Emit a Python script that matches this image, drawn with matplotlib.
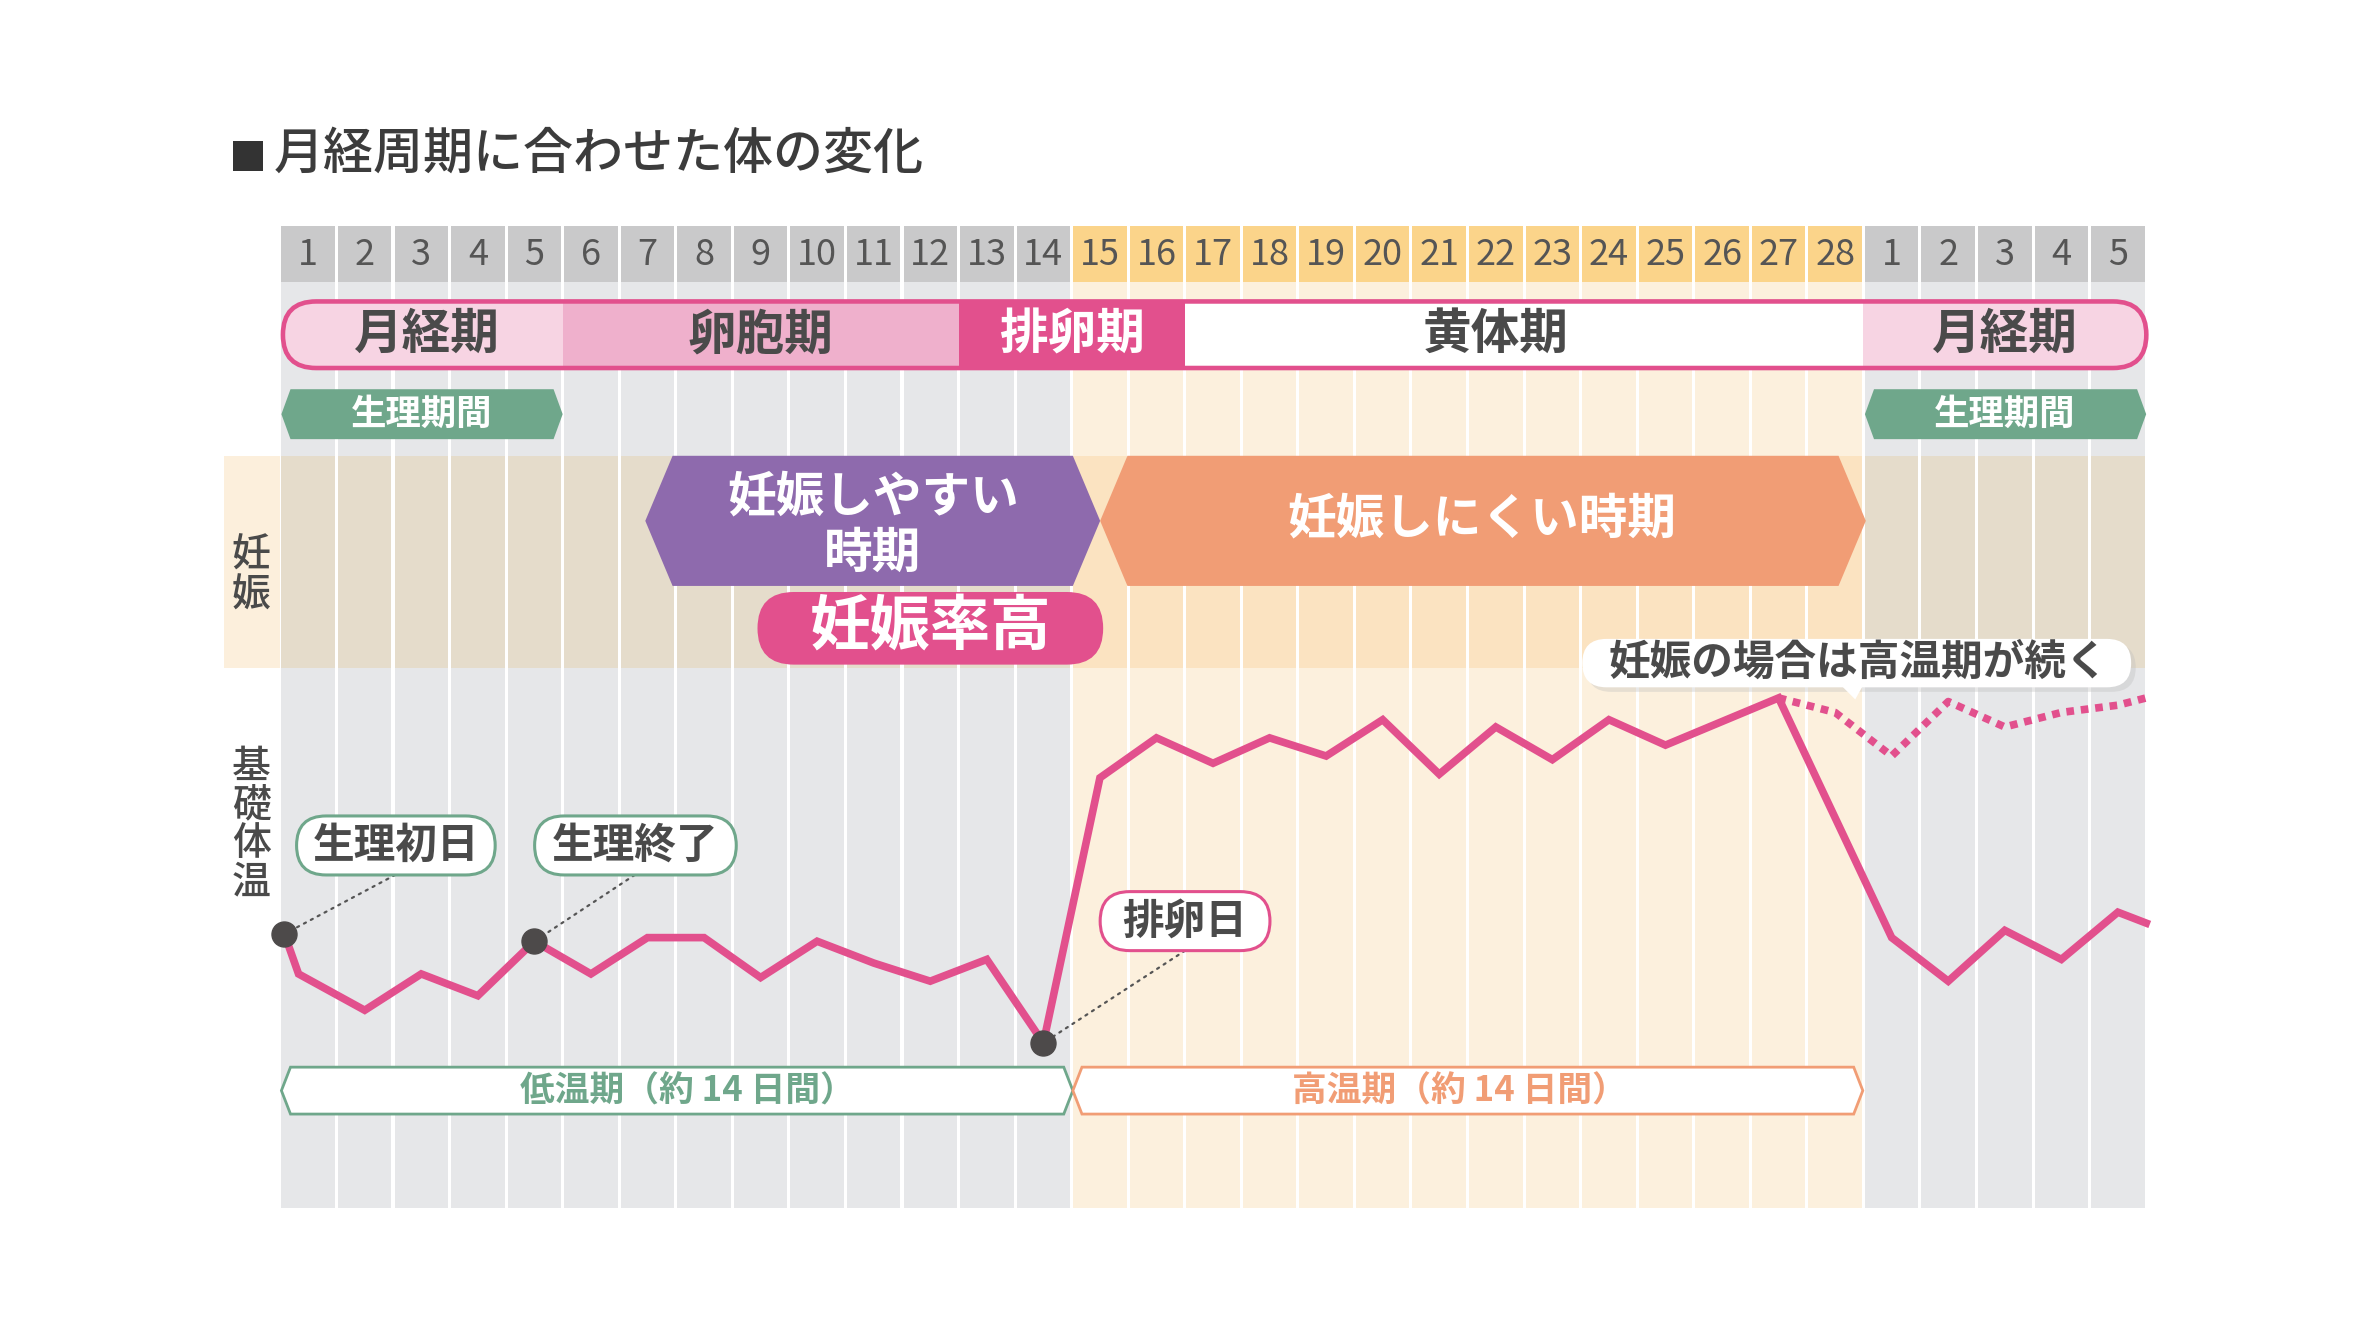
import numpy as np
import matplotlib
matplotlib.use('Agg')
import matplotlib.pyplot as plt
from matplotlib.patches import Rectangle, Polygon, FancyBboxPatch

plt.rcParams['font.family'] = ['Noto Sans CJK JP', 'DejaVu Sans']

# ---- データ ----
day_labels = [str(d) for d in range(1, 29)] + [str(d) for d in range(1, 6)]
high_first, high_last = 15, 28          # 黄色の列 (高温期)

phase_names = ['月経期', '卵胞期', '排卵期', '黄体期', '月経期']
phase_start = [1, 6, 13, 17, 29]
phase_end = [5, 12, 16, 28, 33]
phase_label_day = [3.1, 9.0, 14.5, 22.0, 31.0]
phase_fill = ['#f7d4e3', '#efb0cc', '#e2508d', '#ffffff', '#f7d4e3']
phase_text = ['#4a4a4a', '#4a4a4a', '#ffffff', '#4a4a4a', '#4a4a4a']

period_start = [1, 29]
period_end = [5, 33]

# 基礎体温 (実線)
temp_days = [0.58, 0.83, 2, 3, 4, 5, 6, 7, 8, 9, 10, 11, 12, 13, 14,
             15, 16, 17, 18, 19, 20, 21, 22, 23, 24, 25, 27,
             29, 30, 31, 32, 33, 33.5]
temps = [36.35, 36.24, 36.14, 36.24, 36.18, 36.33, 36.24, 36.34, 36.34, 36.23,
         36.33, 36.27, 36.22, 36.28, 36.05,
         36.78, 36.89, 36.82, 36.89, 36.84, 36.94, 36.79, 36.92, 36.83, 36.94,
         36.87, 37.00,
         36.34, 36.22, 36.36, 36.28, 36.41, 36.38]

# 妊娠した場合 (点線)
preg_days = [27, 28, 29, 30, 31, 32, 33, 33.5]
preg_temps = [37.00, 36.96, 36.84, 36.99, 36.92, 36.96, 36.98, 37.00]

mark_days = [0.58, 5, 14]
mark_labels = ['生理初日', '生理終了', '排卵日']

# ---- レイアウト ----
XL, XR = 1.4, 1566.5
YB, YT = 881.0, -1.2
X0, CW = 186, 37.3

PINK = '#e2508d'
GREEN = '#6fa78b'
ORANGE = '#f19d75'
PURPLE = '#8e6aad'
TXT = '#4a4a4a'

fig = plt.figure(figsize=(23.73, 13.35), dpi=100)
ax = fig.add_axes([0, 0, 1, 1])
ax.set_xlim(XL, XR)
ax.set_ylim(YB, YT)
ax.axis('off')


def col_x(i):
    return X0 + CW * i


def day_x(d):
    return X0 + CW * (d - 0.5)


def pill(x0, y0, x1, y1, fc, ec='none', lw=0, z=5, **kw):
    r = (y1 - y0) / 2
    p = FancyBboxPatch((x0, y0), x1 - x0, y1 - y0,
                       boxstyle='round,pad=0,rounding_size=%f' % r,
                       fc=fc, ec=ec, lw=lw, zorder=z, **kw)
    ax.add_patch(p)
    return p


def hexa(x0, y0, x1, y1, tip, fc, ec='none', lw=0, z=5):
    ym = (y0 + y1) / 2
    pts = [(x0 + tip, y0), (x1 - tip, y0), (x1, ym), (x1 - tip, y1), (x0 + tip, y1), (x0, ym)]
    ax.add_patch(Polygon(pts, closed=True, fc=fc, ec=ec, lw=lw, zorder=z, joinstyle='miter'))


# タイトル
ax.add_patch(Rectangle((155, 92), 20, 20, fc='#333333', ec='none'))
ax.text(182, 101, '月経周期に合わせた体の変化', fontsize=36, color='#3c3c3c',
        ha='left', va='center', fontweight='medium')

# 列の背景・ヘッダー
gap = 1.0
band_top, band_bot = 300, 440
ax.add_patch(Rectangle((149, band_top), X0 - 149, band_bot - band_top, fc='#fcefdc', ec='none', zorder=1))
for i, lab in enumerate(day_labels):
    high = high_first - 1 <= i <= high_last - 1
    xl, xr = col_x(i) + gap, col_x(i + 1) - gap
    ax.add_patch(Rectangle((xl, 148), xr - xl, 37, fc='#fbd48a' if high else '#c9c9ca', ec='none', zorder=1))
    ax.add_patch(Rectangle((xl, 185), xr - xl, 797 - 185, fc='#fcf0dd' if high else '#e6e7e9', ec='none', zorder=0))
    ax.add_patch(Rectangle((xl, band_top), xr - xl, band_bot - band_top,
                           fc='#fbe3c1' if high else '#e5dccb', ec='none', zorder=1))
    ax.text((xl + xr) / 2, 167, lab, fontsize=26, color='#555555', ha='center', va='center', zorder=2)

# 縦ラベル
ax.text(167, 379, '妊\n娠', fontsize=28, color=TXT, ha='center', va='center',
        linespacing=1.0, fontweight='medium', zorder=3)
ax.text(167, 544, '基\n礎\n体\n温', fontsize=28, color=TXT, ha='center', va='center',
        linespacing=0.95, fontweight='medium', zorder=3)

# 周期フェーズバー
bar = pill(188, 198, 1417, 242, fc='white', z=4)
for name, s, e, ld, fc, tc in zip(phase_names, phase_start, phase_end, phase_label_day, phase_fill, phase_text):
    r = Rectangle((col_x(s - 1), 198), col_x(e) - col_x(s - 1), 44, fc=fc, ec='none', zorder=4.1)
    ax.add_patch(r)
    r.set_clip_path(bar)
    ax.text(day_x(ld), 220, name, fontsize=35, color=tc,
            fontweight='bold', ha='center', va='center', zorder=4.3)
pill(188, 198, 1417, 242, fc='none', ec=PINK, lw=3.3, z=4.2)

# 生理期間
for s, e in zip(period_start, period_end):
    hexa(col_x(s - 1) + 1, 256, col_x(e), 289, 6, GREEN, z=4)
    ax.text((col_x(s - 1) + col_x(e)) / 2, 272.5, '生理期間', fontsize=25.5, color='white',
            fontweight='bold', ha='center', va='center', zorder=4.3)

# 妊娠しやすい / しにくい
hexa(427, 300, 727, 386, 18, PURPLE, z=5)
ax.text(577, 346, '妊娠しやすい\n時期', fontsize=35, color='white', fontweight='bold',
        ha='center', va='center', linespacing=1.2, zorder=5.5)
hexa(727, 300, 1232, 386, 18, ORANGE, z=5)
ax.text(979, 342, '妊娠しにくい時期', fontsize=35, color='white', fontweight='bold',
        ha='center', va='center', zorder=5.5)
pill(501, 390, 729, 438, fc=PINK, z=5)
ax.text(615, 413, '妊娠率高', fontsize=43.5, color='white', fontweight='bold',
        ha='center', va='center', zorder=5.5)

# 吹き出し
pill(1048, 424, 1410, 456, fc='#bdbdbd', z=5.8, alpha=0.35)
pill(1045, 421, 1407, 453, fc='white', z=6)
ax.add_patch(Polygon([(1216, 452), (1230, 452), (1225, 461)], closed=True, fc='white', ec='none', zorder=6))
ax.text(1227, 437, '妊娠の場合は高温期が続く', fontsize=30, color=TXT, fontweight='bold',
        ha='center', va='center', zorder=6.5)

# 低温期・高温期
hexa(187, 704, 709, 735, 6, 'white', ec=GREEN, lw=2, z=4)
ax.text(455, 719.5, '低温期（約 14 日間）', fontsize=25, color=GREEN, fontweight='bold',
        ha='center', va='center', zorder=4.5)
hexa(709, 704, 1230, 735, 6, 'white', ec=ORANGE, lw=2, z=4)
ax.text(964, 719.5, '高温期（約 14 日間）', fontsize=25, color=ORANGE, fontweight='bold',
        ha='center', va='center', zorder=4.5)

# 基礎体温グラフ
tax = fig.add_axes([0, 0, 1, 1])
tax.patch.set_alpha(0)
tax.axis('off')
tax.set_xlim(0.5 + (XL - X0) / CW, 0.5 + (XR - X0) / CW)
tax.set_ylim(36 + (700 - YB) / 240, 36 + (700 - YT) / 240)

tax.plot(temp_days, temps, color=PINK, lw=5.5, solid_joinstyle='miter', zorder=6)
tax.plot(preg_days, preg_temps, color=PINK, lw=5.5, linestyle=(0, (1.0, 0.9)),
         dash_capstyle='butt', zorder=6)
mark_temps = np.interp(mark_days, temp_days, temps)
tax.plot(mark_days, mark_temps, 'o', color='#4d4a4a', ms=18, zorder=7)

# ラベル吹き出し
pill_boxes = [(197, 538, 328, 577), (354, 538, 487, 577), (727, 588, 839, 627)]
pill_edges = [GREEN, GREEN, PINK]
leader_ends = [(262, 577), (420, 577), (783, 627)]
for lab, box, ec, end, d, t in zip(mark_labels, pill_boxes, pill_edges, leader_ends, mark_days, mark_temps):
    ax.annotate('', xy=(d, t), xycoords=tax.transData, xytext=end, textcoords=ax.transData,
                arrowprops=dict(arrowstyle='-', ls=(0, (1, 2.5)), color='#555555', lw=1.6,
                                shrinkA=0, shrinkB=0), zorder=5)
    pill(*box, fc='white', ec=ec, lw=2.2, z=8)
    ax.text((box[0] + box[2]) / 2, (box[1] + box[3]) / 2, lab, fontsize=30, color=TXT,
            fontweight='bold', ha='center', va='center', zorder=9)

fig.savefig('out.png', dpi=100, facecolor='white')
